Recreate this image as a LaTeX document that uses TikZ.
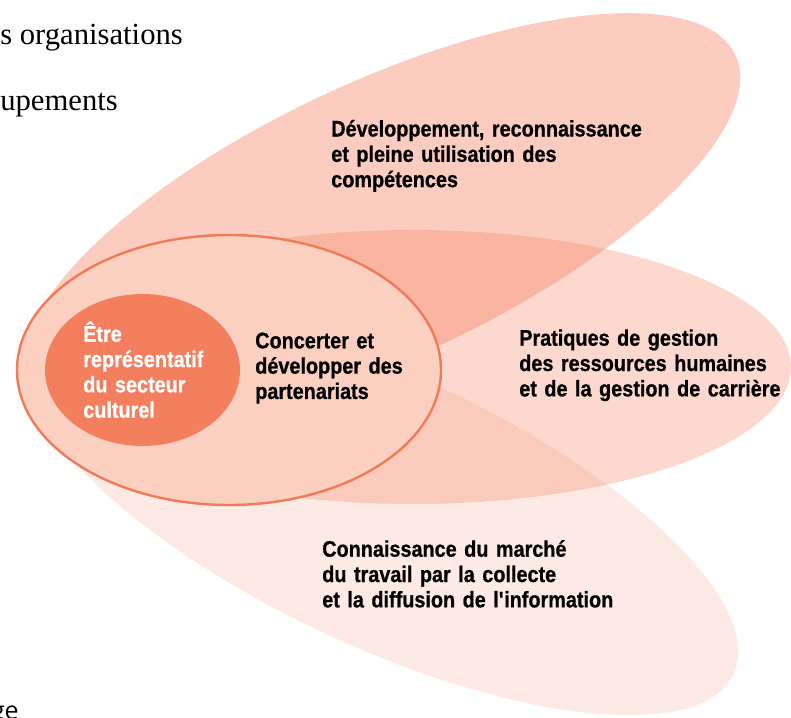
\documentclass[tikz,border=0pt]{standalone}
\usepackage{fontspec}
\setmainfont{Liberation Sans}
\newfontfamily\lblfont{Liberation Sans}[FakeStretch=0.88, BoldFeatures={FakeBold=0.7}]
\newfontfamily\seriffont{Liberation Serif}
\newfontfamily\opensans{Open Sans}
\definecolor{coral}{RGB}{244,127,95}
\definecolor{ringfill}{RGB}{251,208,192}
\definecolor{ringline}{RGB}{241,122,88}
\begin{document}
\begin{tikzpicture}[x=0.75pt,y=-0.75pt,
  lbl/.style={anchor=base west, inner sep=0pt, align=left, text width=330pt,
    font=\lblfont\bfseries\fontsize{16.9}{19}\selectfont},
  petal/.style={fill=coral},
  edgetext/.style={inner sep=0pt}]
\useasboundingbox (0,0) rectangle (791,717);
% petals
\fill[petal, fill opacity=0.16, rotate around={-25:(382,510)}] (382,510) ellipse [x radius=291pt, y radius=102pt];
\fill[petal, fill opacity=0.30] (413,367) ellipse [x radius=283.5pt, y radius=102.75pt];
\fill[petal, fill opacity=0.40, rotate around={25:(382,220)}] (382,220) ellipse [x radius=292.5pt, y radius=103.5pt];
% ring and core
\filldraw[fill=ringfill, draw=ringline, line width=1.8pt] (229,370) ellipse [x radius=159pt, y radius=101.25pt];
\fill[coral] (142.5,370) ellipse [x radius=73.1pt, y radius=57pt];
% labels
\node[lbl] (dev) at (331,136.5) {Développement, reconnaissance\\et pleine utilisation des\\compétences};
\node[lbl, text=white] (etre) at (83,341.7) {Être\\représentatif\\du secteur\\culturel};
\node[lbl] (conc) at (255,348.3) {Concerter et\\développer des\\partenariats};
\node[lbl] (prat) at (519,345.7) {Pratiques de gestion\\des ressources humaines\\et de la gestion de carrière};
\node[lbl] (conn) at (322,556.7) {Connaissance du marché\\du travail par la collecte\\et la diffusion de l\textquotesingle information};
% cut-off surrounding text
\node[edgetext, anchor=base west, font=\seriffont\fontsize{23}{27}\selectfont] (t1) at (0,45) {s organisations};
\node[edgetext, anchor=base west, font=\seriffont\fontsize{23}{27}\selectfont] (t2) at (0,110) {upements};
\node[edgetext, anchor=base east, font=\opensans\fontsize{18.75}{22}\selectfont] (t3) at (19,719) {ge};
\end{tikzpicture}
\end{document}
